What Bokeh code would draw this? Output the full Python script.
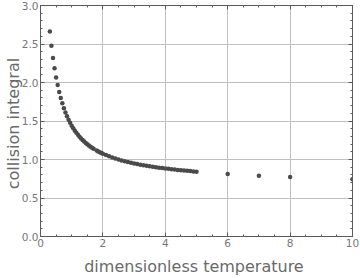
from bokeh.plotting import figure
from bokeh.models import LinearAxis, SingleIntervalTicker, Range1d
from bokeh.embed import file_html
from bokeh.resources import INLINE

t_star = [0.30, 0.35, 0.40, 0.45, 0.50, 0.55, 0.60, 0.65, 0.70, 0.75,
          0.80, 0.85, 0.90, 0.95, 1.00, 1.05, 1.10, 1.15, 1.20, 1.25,
          1.30, 1.35, 1.40, 1.45, 1.50, 1.55, 1.60, 1.65, 1.70,
          1.80, 1.85, 1.90, 1.95, 2.00, 2.10, 2.20, 2.30, 2.40, 2.50,
          2.60, 2.70, 2.80, 2.90, 3.00, 3.10, 3.20, 3.30, 3.40, 3.50,
          3.60, 3.70, 3.80, 3.90, 4.00, 4.10, 4.20, 4.30, 4.40, 4.50,
          4.60, 4.70, 4.80, 4.90, 5.00, 6.0, 7.0, 8.0, 10.0]
omega = [2.662, 2.476, 2.318, 2.184, 2.066, 1.966, 1.877, 1.798, 1.729, 1.667,
         1.612, 1.562, 1.517, 1.476, 1.439, 1.406, 1.375, 1.346, 1.320, 1.296,
         1.273, 1.253, 1.233, 1.215, 1.198, 1.182, 1.167, 1.153, 1.140,
         1.116, 1.105, 1.094, 1.084, 1.075, 1.057, 1.041, 1.026, 1.012, 0.9996,
         0.9878, 0.9770, 0.9672, 0.9576, 0.9490, 0.9406, 0.9328, 0.9256, 0.9186, 0.9120,
         0.9058, 0.8998, 0.8942, 0.8888, 0.8836, 0.8788, 0.8740, 0.8694, 0.8652, 0.8610,
         0.8568, 0.8530, 0.8492, 0.8456, 0.8422, 0.8124, 0.7896, 0.7712, 0.7424]

x_label = "dimensionless  temperature"
y_label = "collision  integral"

p = figure(width=360, height=278, output_backend="svg", toolbar_location=None,
           x_range=Range1d(0, 10), y_range=Range1d(0, 3),
           x_axis_location=None, y_axis_location=None,
           min_border_left=0, min_border_right=8, min_border_top=5, min_border_bottom=40)
p.outline_line_color = "#5a5a5a"
p.outline_line_width = 1
p.background_fill_color = "white"
p.border_fill_color = "white"

xt = SingleIntervalTicker(interval=2, num_minor_ticks=4)
yt = SingleIntervalTicker(interval=0.5, num_minor_ticks=5)

def style(ax, labels=True):
    ax.axis_line_color = "#5a5a5a"
    ax.major_tick_line_color = "#5a5a5a"
    ax.minor_tick_line_color = "#5a5a5a"
    ax.major_tick_in = 4
    ax.major_tick_out = 0
    ax.minor_tick_in = 2
    ax.minor_tick_out = 0
    ax.major_label_text_color = "#777777"
    ax.major_label_text_font = "DejaVu Sans"
    ax.major_label_text_font_size = "10.5px"
    ax.major_label_standoff = 2
    ax.axis_label_text_color = "#6a6a6a"
    ax.axis_label_text_font = "DejaVu Sans"
    ax.axis_label_text_font_size = "16px"
    ax.axis_label_text_font_style = "normal"
    ax.axis_label_standoff = 7
    if not labels:
        ax.major_label_text_font_size = "0px"
        ax.major_label_text_color = None

bottom = LinearAxis(ticker=xt, axis_label=x_label)
left = LinearAxis(ticker=yt, axis_label=y_label)
top = LinearAxis(ticker=xt)
right = LinearAxis(ticker=yt)
style(bottom)
style(left)
style(top, False)
style(right, False)
left.axis_label_standoff = -4
left.major_label_standoff = 2
left.major_label_overrides = {0: "0.0", 1: "1.0", 2: "2.0", 3: "3.0"}
p.add_layout(bottom, "below")
p.add_layout(left, "left")
p.add_layout(top, "above")
p.add_layout(right, "right")

p.xgrid.ticker = xt
p.ygrid.ticker = yt
p.xgrid.grid_line_color = "#c0c0c0"
p.ygrid.grid_line_color = "#c0c0c0"
p.xgrid.grid_line_width = 1
p.ygrid.grid_line_width = 1

p.scatter(t_star, omega, size=4.5, color="#4a4a4a", line_color=None)

open("out.html", "w").write(file_html(p, INLINE))
